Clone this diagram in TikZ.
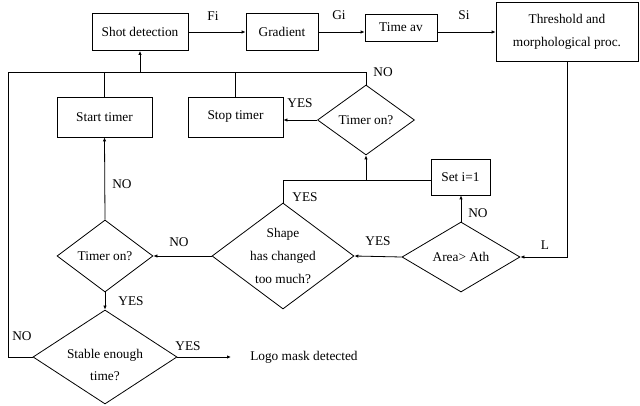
\documentclass[tikz,border=0pt]{standalone}
\usepackage{fontspec}
\setmainfont{Liberation Serif}
\usetikzlibrary{shapes.geometric,arrows.meta}
\begin{document}
\begin{tikzpicture}[x=0.75pt,y=-0.75pt,
  every node/.style={font=\fontsize{10}{17}\selectfont, inner sep=0pt},
  box/.style={draw, line width=0.6pt, align=center},
  dia/.style={draw, diamond, line width=0.6pt, inner sep=0pt},
  ln/.style={line width=0.6pt},
  arr/.style={line width=0.6pt, -{Latex[length=3pt,width=2.6pt]}}]
\useasboundingbox (0,0) rectangle (640,406);

% boxes
\node[box, minimum width=72pt, minimum height=27.75pt] (shot) at (140,32) {Shot detection};
\node[box, minimum width=54pt, minimum height=27.75pt] (grad) at (282,32) {Gradient};
\node[box, minimum width=54pt, minimum height=20.25pt] (timeav) at (401,27.5) {Time av};
\node[box, minimum width=106.5pt, minimum height=44.25pt] (thresh) at (567,31.5) {Threshold and\\morphological proc.};
\node[box, minimum width=71.25pt, minimum height=30pt] (start) at (104.5,117) {Start timer};
\node[box, minimum width=71.25pt, minimum height=30pt] (stop) at (235.5,117) {Stop timer};
\node[box, minimum width=44.25pt, minimum height=27pt] (seti) at (460.5,177) {Set i=1};

% diamonds
\node[dia, minimum width=72.75pt, minimum height=52.5pt, label={center:Timer on?}] (timer1) at (366,120) {};
\node[dia, minimum width=88.5pt, minimum height=52.5pt, label={center:Area> Ath}] (area) at (461,257) {};
\node[dia, minimum width=106.5pt, minimum height=79.5pt, label={[align=center]center:Shape\\has changed\\too much?}] (shape) at (283,256) {};
\node[dia, minimum width=72pt, minimum height=54pt, label={center:Timer on?}] (timer2) at (105,256) {};
\node[dia, minimum width=108pt, minimum height=70.5pt, label={[align=center,yshift=-6pt]center:Stable enough\\time?}] (stable) at (105,357) {};

\node[anchor=west] (logo) at (250,357) {Logo mask detected};

% helper coordinates
\coordinate (bus) at (140,72);
\coordinate (lc) at (8,72);
\coordinate (j1) at (366,180);
\coordinate (lend) at (231,357);

% top row
\draw[arr] (shot) -- (grad);
\draw[arr] (grad.east) -- (grad.east -| timeav.west);
\draw[arr] (timeav.east |- grad.east) -- (thresh.west |- grad.east);
\node (fi) at (213,16) {Fi};
\node (gi) at (339,15) {Gi};
\node (si) at (464,15) {Si};

% threshold to area
\draw[arr] (thresh.south) |- (area.east);
\node (l) at (545,245) {L};

% area connections
\draw[arr] (area.north) -- (area.north |- seti.south);
\node (no1) at (478,213) {NO};
\draw[arr] (area.west) -- (shape.east);
\node (yes1) at (378,241) {YES};

% set i=1 and shape top to timer1
\draw[ln] (seti.west |- j1) -- (j1);
\draw[ln] (shape.north) |- (j1);
\draw[arr] (j1) -- (timer1.south);
\node (yes2) at (305,197) {YES};

% timer1
\draw[arr] (timer1.west) -- (timer1.west -| stop.east);
\node (yes3) at (300,103) {YES};
\draw[ln] (timer1.north) |- (bus);
\node (no2) at (383,72) {NO};

% bus
\draw[arr] (bus) -- (shot.south);
\draw[ln] (start.north) -- (start.north |- bus);
\draw[ln] (stop.north) -- (stop.north |- bus);
\draw[ln] (stable.west) -| (lc) -- (bus);
\node (no3) at (22,336) {NO};

% shape to timer2
\draw[arr] (shape.west) -- (timer2.east);
\node (no4) at (179,242) {NO};

% timer2
\draw[arr] (timer2.north) -- (start.south);
\node (no5) at (122,184) {NO};
\draw[arr] (timer2.south) -- (stable.north);
\node (yes4) at (131,301) {YES};

% stable
\draw[arr] (stable.east) -- (lend);
\node (yes5) at (188,346) {YES};
\end{tikzpicture}
\end{document}
